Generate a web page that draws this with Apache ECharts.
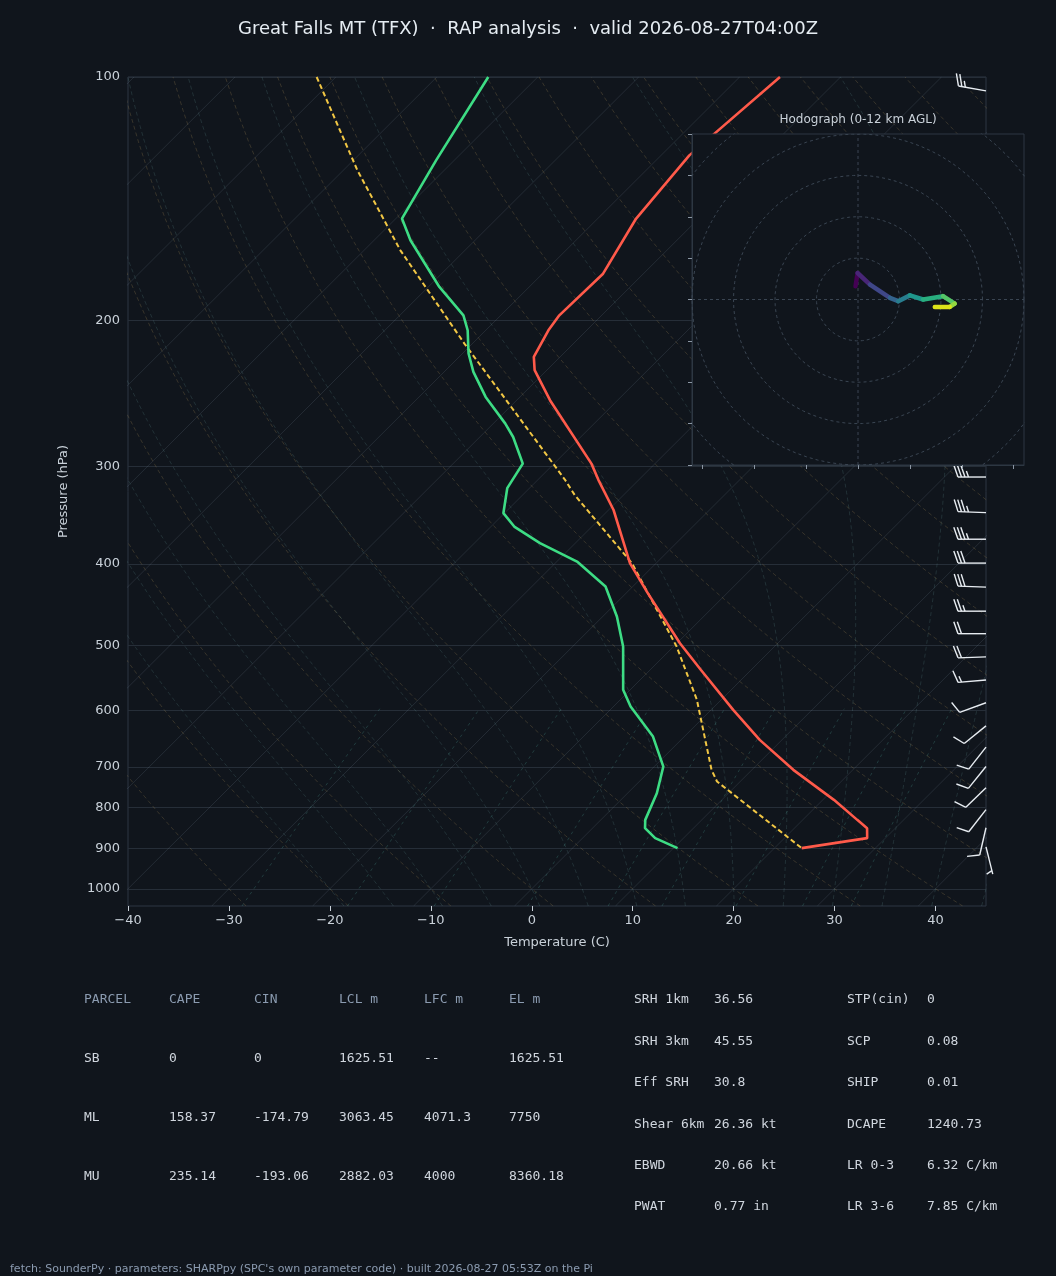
<!DOCTYPE html>
<html>
<head>
<meta charset="utf-8">
<script src="https://cdn.jsdelivr.net/npm/echarts@6/dist/echarts.min.js"></script>
<style>
  html, body { margin: 0; padding: 0; background: #10151c; }
  #chart { width: 1056px; height: 1276px; }
</style>
</head>
<body>
<div id="chart"></div>
<script>
// sounding profiles (pressure hPa, temperature C)
const tempP = [100, 124.9, 149.4, 174.7, 196.6, 205.1, 221.2, 229.7, 250.1, 299.4, 313.5, 341.5, 397.1, 432, 498.3, 537.3, 602.1, 655.5, 713.6, 777, 822.4, 842, 866.2, 891];
const tempC = [-56.0, -57.2, -56.2, -54.0, -54.2, -53.8, -52.6, -51.2, -46.7, -36.3, -34.0, -29.5, -22.6, -17.9, -9.7, -5.0, 2.2, 7.8, 14.1, 21.1, 25.4, 27.2, 28.2, 22.7];
const dwptP = [100, 126.6, 149.4, 158.9, 181.4, 196.6, 205.1, 219.1, 230.8, 247.8, 267.3, 277.6, 299.4, 321, 344.6, 357.9, 375.2, 395.3, 424.3, 461.9, 503, 568.7, 596.4, 649.4, 707, 762.5, 822.4, 842, 866.2, 891];
const dwptC = [-84.9, -81.8, -79.4, -76.4, -68.9, -63.7, -61.8, -59.4, -57.1, -53.4, -48.8, -46.7, -43.1, -42.2, -40.1, -37.7, -33.5, -28.0, -22.7, -18.6, -15.0, -10.7, -8.3, -3.1, 0.9, 2.9, 4.4, 5.2, 7.2, 10.4];
const parcelP = [100, 130.3, 163.5, 213, 313.5, 327.5, 397.1, 503, 585.1, 713.6, 737.6, 766, 891];
const parcelC = [-101.9, -88.6, -76.4, -60.8, -37.3, -34.8, -22.4, -9.7, -2.4, 6.0, 7.7, 10.7, 22.7];

// wind barbs
const barbP = [104, 311, 344, 371, 397, 425, 455, 485, 518, 553, 590, 630, 669, 707, 751, 799, 841, 888];
const barbDir = [280, 270, 272, 270, 270, 272, 270, 270, 268, 265, 250, 231, 218, 219, 226, 218, 193, 166];
const barbKt = [25, 35, 35, 35, 30, 30, 25, 20, 20, 15, 10, 10, 10, 10, 10, 10, 10, 5];

// hodograph (kt)
const hodoU = [-0.6, -0.1, 2.9, 7.7, 9.7, 12.5, 15.7, 20.5, 23.3, 22.1, 18.5];
const hodoV = [3.2, 6.4, 3.6, 0.4, -0.4, 1.0, 0.0, 0.8, -1.0, -1.8, -1.8];
const hodoColors = ['#440154', '#482677', '#3f4788', '#33638d', '#287d8e', '#1f968b', '#29af7f', '#55c667', '#95d840', '#dce319'];

const pressureTicks = [100, 200, 300, 400, 500, 600, 700, 800, 900, 1000];

const parcelHead = ['PARCEL', 'CAPE', 'CIN', 'LCL m', 'LFC m', 'EL m'];
const parcelRows = [
  ['SB', '0', '0', '1625.51', '--', '1625.51'],
  ['ML', '158.37', '-174.79', '3063.45', '4071.3', '7750'],
  ['MU', '235.14', '-193.06', '2882.03', '4000', '8360.18']
];
const paramsLeft = [['SRH 1km', '36.56'], ['SRH 3km', '45.55'], ['Eff SRH', '30.8'], ['Shear 6km', '26.36 kt'], ['EBWD', '20.66 kt'], ['PWAT', '0.77 in']];
const paramsRight = [['STP(cin)', '0'], ['SCP', '0.08'], ['SHIP', '0.01'], ['DCAPE', '1240.73'], ['LR 0-3', '6.32 C/km'], ['LR 3-6', '7.85 C/km']];

const SKEW = 35;
const skx = (t, p) => t + SKEW * Math.log(1000 / p);
const ly = p => Math.log10(p);
const prof = (ps, ts) => ps.map((p, i) => [skx(ts[i], p), ly(p)]);

// background reference lines
const bg = [];
function bgLine(pts, color, type) {
  bg.push({ type: 'line', data: pts, showSymbol: false, silent: true, z: 1,
    lineStyle: { color: color, width: 1, type: type } });
}
const levels = [];
for (let p = 1050; p >= 100; p -= 10) levels.push(p);
for (let t = -150; t <= 50; t += 10) bgLine([[skx(t, 1050), ly(1050)], [skx(t, 100), ly(100)]], 'rgba(140,160,180,0.16)', 'solid');
for (let th = -30; th <= 200; th += 10) {
  bgLine(levels.map(p => [skx((th + 273.15) * Math.pow(p / 1000, 0.2857) - 273.15, p), ly(p)]), 'rgba(150,125,80,0.30)', [4, 3]);
}
function moistRate(T, p) {
  const es = 6.112 * Math.exp(17.67 * (T - 273.15) / (T - 29.65));
  const rs = 0.622 * es / (p - es);
  return (287.04 * T + 2.501e6 * rs) / (p * (1005.7 + 2.501e6 * 2.501e6 * rs * 0.622 / (287.04 * T * T)));
}
for (let t0 = -20; t0 <= 45; t0 += 5) {
  const pts = [];
  let T = t0 + 273.15;
  for (let p = 1000; p <= 1050; p += 5) { pts.unshift([skx(T - 273.15, p), ly(p)]); T += moistRate(T, p) * 5; }
  T = t0 + 273.15;
  for (let p = 1000; p > 100; p -= 5) { T -= moistRate(T, p) * 5; pts.push([skx(T - 273.15, p - 5), ly(p - 5)]); }
  bgLine(pts, 'rgba(100,150,150,0.22)', [4, 3]);
}
[0.4, 1, 2, 4, 7, 10, 16, 24, 32].forEach(w => {
  const pts = [];
  for (let p = 1050; p >= 600; p -= 25) {
    const e = w * p / (622 + w);
    const l = Math.log(e / 6.112);
    pts.push([skx(243.5 * l / (17.67 - l), p), ly(p)]);
  }
  bgLine(pts, 'rgba(80,160,150,0.28)', [3, 4]);
});

// hodograph rings
const hodo = [];
const hodoLine = (pts) => ({ type: 'line', xAxisIndex: 1, yAxisIndex: 1, data: pts, showSymbol: false, silent: true, z: 10,
  lineStyle: { color: '#3a4552', width: 1, type: [3, 3] } });
for (let r = 10; r <= 60; r += 10) {
  const pts = [];
  for (let a = 0; a <= 360; a += 4) pts.push([r * Math.cos(a * Math.PI / 180), r * Math.sin(a * Math.PI / 180)]);
  hodo.push(hodoLine(pts));
}
hodo.push(hodoLine([[-40, 0], [40, 0]]));
hodo.push(hodoLine([[0, -40], [0, 40]]));
for (let i = 0; i < hodoU.length - 1; i++) {
  hodo.push({ type: 'line', xAxisIndex: 1, yAxisIndex: 1, z: 12, showSymbol: false, silent: true,
    data: [[hodoU[i], hodoV[i]], [hodoU[i + 1], hodoV[i + 1]]],
    lineStyle: { width: 4.5, color: hodoColors[i], cap: 'round' } });
}

function renderBarb(params, api) {
  const base = api.coord([45, api.value(0)]);
  const d = api.value(1) * Math.PI / 180, s = api.value(2);
  const L = 28, ux = Math.sin(d), uy = -Math.cos(d), px = -uy, py = ux;
  const tip = [base[0] + ux * L, base[1] + uy * L];
  const lines = [{ type: 'line', shape: { x1: base[0], y1: base[1], x2: tip[0], y2: tip[1] } }];
  let n10 = Math.floor(s / 10), n5 = (s % 10) >= 5 ? 1 : 0, pos = 0;
  if (n10 === 0 && n5) pos = 1;
  for (let i = 0; i < n10 + n5; i++) {
    const len = i < n10 ? 12 : 6;
    const sx = tip[0] - ux * pos * 3.5, sy = tip[1] - uy * pos * 3.5;
    lines.push({ type: 'line', shape: { x1: sx, y1: sy, x2: sx + px * len + ux * len * 0.35, y2: sy + py * len + uy * len * 0.35 } });
    pos++;
  }
  return { type: 'group', children: lines.map(l => Object.assign(l, { style: { stroke: '#e8edf2', lineWidth: 1.4 } })) };
}

const txt = (x, y, text, color, size, family, align) => ({
  type: 'text', x: x, y: y, z: 20,
  style: { text: text, fill: color, font: size + 'px ' + family, textAlign: align || 'left', textVerticalAlign: 'middle' }
});
const mono = '"DejaVu Sans Mono"';
const graphics = [
  { type: 'rect', shape: { x: 692, y: 134, width: 332, height: 331 }, z: 5, silent: true,
    style: { fill: '#10151c', stroke: '#2d3742', lineWidth: 1 } },
  txt(858, 120, 'Hodograph (0-12 km AGL)', '#c9d1d9', 12, '"DejaVu Sans"', 'center'),
  txt(10, 1269, "fetch: SounderPy \u00b7 parameters: SHARPpy (SPC's own parameter code) \u00b7 built 2026-08-27 05:53Z on the Pi", '#8b9bb0', 11, '"DejaVu Sans"')
];
const colX = [84, 169, 254, 339, 424, 509];
parcelHead.forEach((h, i) => graphics.push(txt(colX[i], 1000, h, '#8b9bb0', 13, mono)));
parcelRows.forEach((r, j) => r.forEach((v, i) => graphics.push(txt(colX[i], 1059 + j * 58.7, v, '#d0d6de', 13, mono))));
paramsLeft.forEach((r, j) => { graphics.push(txt(634, 1000 + j * 41.4, r[0], '#d0d6de', 13, mono)); graphics.push(txt(714, 1000 + j * 41.4, r[1], '#d0d6de', 13, mono)); });
paramsRight.forEach((r, j) => { graphics.push(txt(847, 1000 + j * 41.4, r[0], '#d0d6de', 13, mono)); graphics.push(txt(927, 1000 + j * 41.4, r[1], '#d0d6de', 13, mono)); });

const chart = echarts.init(document.getElementById('chart'));
chart.setOption({
  backgroundColor: '#10151c',
  animation: false,
  textStyle: { fontFamily: '"DejaVu Sans"' },
  title: {
    text: 'Great Falls MT (TFX)  \u00b7  RAP analysis  \u00b7  valid 2026-08-27T04:00Z',
    left: 'center', top: 15,
    textStyle: { color: '#e6edf3', fontSize: 18, fontWeight: 'normal', fontFamily: '"DejaVu Sans"' }
  },
  grid: [
    { left: 128, top: 77, width: 858, height: 829, show: true, borderColor: '#2d3742', borderWidth: 1, backgroundColor: 'transparent' },
    { left: 692, top: 134, width: 332, height: 331 }
  ],
  xAxis: [
    { type: 'value', gridIndex: 0, min: -40, max: 45, interval: 10,
      name: 'Temperature (C)', nameLocation: 'middle', nameGap: 30,
      nameTextStyle: { color: '#c9d1d9', fontSize: 13 },
      axisLine: { show: false }, splitLine: { show: false },
      axisTick: { show: true, length: 5, lineStyle: { color: '#c9d1d9' } },
      axisLabel: { color: '#c9d1d9', fontSize: 13, margin: 8, showMaxLabel: false, formatter: v => String(v).replace('-', '\u2212') } },
    { type: 'value', gridIndex: 1, min: -40, max: 40, z: 10,
      axisLine: { show: true, onZero: false, lineStyle: { color: '#2d3742' } },
      axisTick: { show: true, length: 4, customValues: [-37.5, -25, -12.5, 0, 12.5, 25, 37.5], lineStyle: { color: '#8b96a3' } },
      axisLabel: { show: false, customValues: [-37.5, -25, -12.5, 0, 12.5, 25, 37.5] }, splitLine: { show: false } }
  ],
  yAxis: [
    { type: 'value', gridIndex: 0, inverse: true, min: ly(100), max: ly(1050),
      name: 'Pressure (hPa)', nameLocation: 'middle', nameGap: 58, nameRotate: 90,
      nameTextStyle: { color: '#c9d1d9', fontSize: 13 },
      axisLine: { show: false }, axisTick: { show: false }, axisLabel: { show: false }, splitLine: { show: false } },
    { type: 'value', gridIndex: 1, min: -40, max: 40, interval: 10, z: 10,
      axisLine: { show: true, onZero: false, lineStyle: { color: '#2d3742' } },
      axisTick: { show: true, length: 4, lineStyle: { color: '#8b96a3' } },
      axisLabel: { show: false }, splitLine: { show: false } }
  ],
  graphic: graphics,
  series: bg.concat([
    { type: 'line', name: 'parcel', data: prof(parcelP, parcelC), showSymbol: false, z: 3,
      lineStyle: { color: '#f2c744', width: 2, type: [5, 3] },
      markLine: { silent: true, symbol: 'none', z: 1,
        lineStyle: { color: '#262e38', width: 1, type: 'solid' },
        label: { position: 'start', color: '#c9d1d9', fontSize: 13, distance: 8, formatter: '{b}' },
        data: pressureTicks.map(p => ({ yAxis: ly(p), name: String(p) })) } },
    { type: 'line', name: 'dewpoint', data: prof(dwptP, dwptC), showSymbol: false, z: 3, lineStyle: { color: '#3ddc84', width: 2.6 } },
    { type: 'line', name: 'temperature', data: prof(tempP, tempC), showSymbol: false, z: 3, lineStyle: { color: '#ff5a4a', width: 2.6 } },
    { type: 'custom', name: 'barbs', renderItem: renderBarb, clip: false, z: 2,
      data: barbP.map((p, i) => [ly(p), barbDir[i], barbKt[i]]) }
  ]).concat(hodo)
});
</script>
</body>
</html>
